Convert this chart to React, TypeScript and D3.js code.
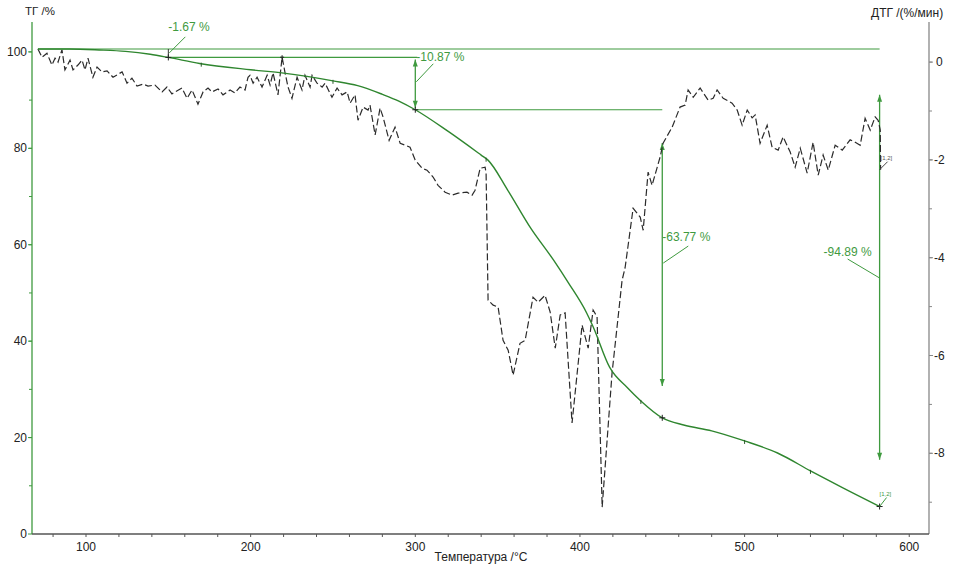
import React from "react";
import * as d3 from "d3";

// ---- TG curve (mass, %) ----
const tgTemp = [70.8, 90, 108, 124, 139, 150, 169, 200, 220, 250, 265, 280, 290, 300, 320, 340, 344, 356, 370, 384, 393, 404, 408, 418, 429, 437, 450, 463, 480, 500, 520, 540, 560, 582];
const tgMass = [100.6, 100.6, 100.4, 100.1, 99.5, 98.85, 97.6, 96.3, 95.6, 94.0, 93.0, 91.2, 89.8, 88.0, 83.5, 78.6, 77.6, 71.4, 63.5, 56.8, 52.1, 45.9, 43.0, 34.6, 30.3, 27.6, 24.1, 22.6, 21.4, 19.3, 16.8, 13.1, 9.5, 5.7];

// ---- DTG curve (%/min) ----
const dtgTemp = [70.8, 73.3, 76.3, 79.3, 81.2, 83.0, 85.4, 87.2, 90.3, 92.1, 95.1, 97.6, 99.4, 101.2, 104.2, 106.7, 109.7, 112.8, 116.4, 121.9, 124.9, 127.9, 131.0, 134.6, 137.7, 141.9, 146.2, 149.2, 152.2, 158.3, 161.4, 164.4, 168.0, 171.1, 174.1, 176.5, 180.2, 183.2, 187.5, 190.5, 193.5, 196.6, 198.4, 199.6, 201.5, 203.9, 206.9, 210.0, 211.8, 213.6, 216.6, 219.1, 220.9, 222.7, 225.1, 228.2, 231.2, 233.0, 236.1, 237.3, 240.3, 243.4, 245.2, 249.4, 252.5, 255.5, 258.6, 260.4, 263.4, 265.2, 268.3, 271.3, 272.5, 275.6, 278.6, 280.4, 284.1, 287.7, 290.8, 293.8, 296.8, 299.9, 304.1, 307.1, 310.8, 313.8, 318.1, 322.3, 326.0, 331.4, 334.5, 336.3, 339.4, 342.4, 343.0, 344.2, 347.3, 350.3, 353.3, 356.4, 359.4, 363.6, 366.7, 371.5, 374.6, 378.8, 381.9, 385.0, 388.0, 391.0, 395.2, 401.3, 405.0, 408.0, 410.4, 413.5, 419.5, 425.6, 427.4, 432.3, 436.6, 438.4, 441.4, 443.8, 448.7, 450.5, 456.0, 460.8, 463.9, 465.7, 468.8, 473.0, 477.9, 480.9, 483.3, 487.0, 492.4, 495.5, 498.5, 501.6, 504.6, 506.4, 509.4, 513.7, 516.7, 520.4, 523.4, 527.7, 530.7, 533.8, 538.0, 541.6, 544.7, 547.7, 550.8, 555.0, 559.3, 564.1, 567.2, 570.2, 573.2, 576.3, 579.3, 581.1, 582.4, 582.6];
const dtgRate = [0.27, 0.10, 0.18, -0.06, 0.08, 0.00, 0.25, -0.16, 0.04, -0.16, -0.06, 0.04, -0.16, 0.08, -0.31, -0.10, -0.20, -0.18, -0.31, -0.20, -0.43, -0.33, -0.49, -0.45, -0.49, -0.47, -0.61, -0.51, -0.65, -0.53, -0.74, -0.57, -0.86, -0.61, -0.53, -0.61, -0.55, -0.67, -0.57, -0.63, -0.51, -0.57, -0.31, -0.27, -0.43, -0.31, -0.51, -0.27, -0.47, -0.22, -0.67, 0.10, -0.22, -0.51, -0.74, -0.31, -0.57, -0.27, -0.51, -0.27, -0.43, -0.51, -0.43, -0.72, -0.53, -0.67, -0.61, -0.84, -0.67, -1.19, -0.92, -0.98, -0.88, -1.49, -0.94, -1.12, -1.60, -1.33, -1.66, -1.70, -1.74, -2.00, -2.17, -2.21, -2.35, -2.52, -2.66, -2.72, -2.68, -2.66, -2.72, -2.62, -2.17, -2.15, -2.27, -4.87, -4.97, -5.01, -5.69, -5.89, -6.40, -5.75, -5.69, -4.81, -4.91, -4.77, -5.11, -5.85, -5.17, -5.13, -7.38, -5.38, -5.85, -5.07, -5.21, -9.10, -6.36, -4.46, -4.21, -2.99, -3.17, -3.44, -2.25, -2.52, -1.94, -1.66, -1.33, -0.92, -0.88, -0.57, -0.72, -0.53, -0.78, -0.74, -0.57, -0.74, -0.84, -0.98, -1.29, -0.98, -1.14, -1.08, -1.66, -1.29, -1.74, -1.80, -1.53, -1.84, -2.15, -1.76, -2.27, -1.64, -2.31, -1.90, -2.21, -1.70, -1.80, -1.59, -1.64, -1.70, -1.15, -1.39, -1.12, -1.19, -1.39, -2.2];

// ---- ticks ----
const xTicks = [100, 200, 300, 400, 500, 600];
const tgTicks = [0, 20, 40, 60, 80, 100];
const dtgTicks = [0, -2, -4, -6, -8];

// ---- step annotations ----
const refMass = 100.6;
const refStartTemp = 70.8;
const stepTemps = [150, 300, 450, 582];
const stepMass = [98.85, 88.0, 24.1, 5.7];
const stepLabels = ["-1.67 %", "-10.87 %", "-63.77 %", "-94.89 %"];
const arrowTemps = [300, 450, 582];
const arrowTop = [98.4, 81.1, 91.1];
const arrowBottom = [88.4, 30.7, 15.4];
const leaderMass = [99.8, 93.8, 56.2, 53.1];
const smallMarkTemps = [170, 250, 343, 437, 500, 540];
const endRate = -2.2;

const GREEN = "#3f9a3f";
const CURVE = "#2f862f";
const FONT = "'Liberation Sans', Arial, Helvetica, sans-serif";

export default function App() {
  const W = 963, H = 573;
  const x = d3.scaleLinear().domain([67.2, 612]).range([32, 929]);
  const yL = d3.scaleLinear().domain([0, 106.2]).range([534, 22]);
  const yR = d3.scaleLinear().domain([-9.65, 0.82]).range([534, 22]);
  const [x0, x1] = x.range();
  const [yB, yT] = yL.range();

  const tgLine = d3.line<number>().x((_, i) => x(tgTemp[i])).y((_, i) => yL(tgMass[i])).curve(d3.curveMonotoneX);
  const dtgLine = d3.line<number>().x((_, i) => x(dtgTemp[i])).y((_, i) => yR(dtgRate[i]));
  const tgAt = (t: number) => {
    const i = d3.bisectLeft(tgTemp, t);
    if (i <= 0) return tgMass[0];
    const t0 = tgTemp[i - 1], t1 = tgTemp[i];
    return tgMass[i - 1] + (tgMass[i] - tgMass[i - 1]) * (t - t0) / (t1 - t0);
  };

  const xMinor = d3.range(80, 612, 20);
  const lMinor = d3.range(10, 106, 10);
  const rMinor = d3.range(-9, 1, 1);

  const arrowHead = (cx: number, cy: number, dir: number) =>
    `${cx},${cy} ${cx - 2.5},${cy + dir * 7} ${cx + 2.5},${cy + dir * 7}`;

  const labelPos = [
    { lx: 16, ly: -16, tx: x(stepTemps[0]), ty: 31, anchor: "start" },
    { lx: 17, ly: -18, tx: x(stepTemps[1]) + 1, ty: 61, anchor: "start" },
    { lx: 25, ly: -17, tx: x(stepTemps[2]), ty: 241, anchor: "start" },
    { lx: -32, ly: -19, tx: x(stepTemps[3]) - 8, ty: 256, anchor: "end" },
  ];

  return (
    <div style={{ position: "fixed", left: 0, top: 0, width: W, height: H, background: "#fff" }}>
      <svg width={W} height={H} style={{ display: "block", fontFamily: FONT }}>
        <rect width={W} height={H} fill="#fff" />

        {/* axes */}
        <line x1={x0} x2={x0} y1={yT} y2={yB} stroke={GREEN} strokeWidth={1.3} />
        <line x1={x1} x2={x1} y1={yT} y2={yB} stroke="#888" strokeWidth={1.3} />
        <line x1={x0} x2={x1} y1={yB} y2={yB} stroke="#555" strokeWidth={1.3} />

        {/* bottom ticks */}
        {xMinor.map((t) => (
          <line key={"xm" + t} x1={x(t)} x2={x(t)} y1={yB} y2={yB + 3} stroke="#555" strokeWidth={1} />
        ))}
        {xTicks.map((t) => (
          <text key={"xt" + t} x={x(t)} y={551} fontSize={12} textAnchor="middle" fill="#222">{t}</text>
        ))}
        <text x={481} y={561} fontSize={12} textAnchor="middle" fill="#222">Температура /°C</text>

        {/* left ticks */}
        {lMinor.map((v) => (
          <line key={"lm" + v} x1={x0 - 3} x2={x0} y1={yL(v)} y2={yL(v)} stroke={GREEN} strokeWidth={1} />
        ))}
        {tgTicks.map((v) => (
          <g key={"lt" + v}>
            <line x1={x0 - 4} x2={x0} y1={yL(v)} y2={yL(v)} stroke={GREEN} strokeWidth={1} />
            <text x={x0 - 5} y={yL(v) + 4} fontSize={12} textAnchor="end" fill="#222">{v}</text>
          </g>
        ))}
        <text x={25} y={15} fontSize={11.5} fill="#222">ТГ /%</text>

        {/* right ticks */}
        {rMinor.map((v) => (
          <line key={"rm" + v} x1={x1} x2={x1 + 3} y1={yR(v)} y2={yR(v)} stroke="#888" strokeWidth={1} />
        ))}
        {dtgTicks.map((v) => (
          <g key={"rt" + v}>
            <line x1={x1} x2={x1 + 4} y1={yR(v)} y2={yR(v)} stroke="#888" strokeWidth={1} />
            <text x={x1 + (v < 0 ? 5 : 7)} y={yR(v) + 4} fontSize={12} fill="#222">{v < 0 ? "-" + Math.abs(v) : v}</text>
          </g>
        ))}
        <text x={871} y={17} fontSize={12} fill="#222">ДТГ /(%/мин)</text>

        {/* step annotation lines */}
        <line x1={x(refStartTemp)} x2={x(stepTemps[3])} y1={yL(refMass)} y2={yL(refMass)} stroke={GREEN} strokeWidth={1.2} />
        <line x1={x(stepTemps[0])} x2={x(stepTemps[0])} y1={yL(refMass)} y2={yL(stepMass[0])} stroke="#333" strokeWidth={1} />
        <line x1={x(stepTemps[0])} x2={x(stepTemps[1]) + 2} y1={yL(stepMass[0])} y2={yL(stepMass[0])} stroke={GREEN} strokeWidth={1.2} />
        <line x1={x(stepTemps[1])} x2={x(stepTemps[2])} y1={yL(stepMass[1])} y2={yL(stepMass[1])} stroke={GREEN} strokeWidth={1.2} />
        {arrowTemps.map((t, i) => (
          <g key={"ar" + t}>
            <line x1={x(t)} x2={x(t)} y1={yL(arrowTop[i])} y2={yL(arrowBottom[i])} stroke={GREEN} strokeWidth={1.3} />
            <polygon points={arrowHead(x(t), yL(arrowTop[i]), 1)} fill={GREEN} />
            <polygon points={arrowHead(x(t), yL(arrowBottom[i]), -1)} fill={GREEN} />
          </g>
        ))}

        {/* labels with leaders */}
        {stepTemps.map((t, i) => {
          const ax = x(t) + (i === 3 ? 0 : 1);
          const ay = yL(leaderMass[i]);
          const p = labelPos[i];
          return (
            <g key={"lb" + t}>
              <line x1={ax} y1={ay} x2={ax + p.lx} y2={ay + p.ly} stroke={GREEN} strokeWidth={1} />
              <text x={p.tx} y={p.ty} fontSize={12} fill={GREEN} textAnchor={p.anchor as any}>{stepLabels[i]}</text>
            </g>
          );
        })}

        {/* DTG curve */}
        <path d={dtgLine(dtgTemp) || ""} fill="none" stroke="#2b2b2b" strokeWidth={1.2} strokeDasharray="7,3" />

        {/* TG curve */}
        <path d={tgLine(tgTemp) || ""} fill="none" stroke={CURVE} strokeWidth={1.4} />

        {/* small marks on TG */}
        {smallMarkTemps.map((t) => (
          <line key={"sm" + t} x1={x(t)} x2={x(t)} y1={yL(tgAt(t)) - 1} y2={yL(tgAt(t)) + 3} stroke="#2a5a2a" strokeWidth={1} />
        ))}
        {/* step crosses */}
        {stepTemps.map((t, i) => (
          <g key={"cr" + t} stroke="#222" strokeWidth={1}>
            <line x1={x(t) - 3} x2={x(t) + 3} y1={yL(stepMass[i])} y2={yL(stepMass[i])} />
            <line x1={x(t)} x2={x(t)} y1={yL(stepMass[i]) - 3} y2={yL(stepMass[i]) + 3} />
          </g>
        ))}
        {/* DTG spike cross */}
        <g stroke="#222" strokeWidth={1}>
          <line x1={x(219.1) - 2} x2={x(219.1) + 2} y1={yR(0.1)} y2={yR(0.1)} />
          <line x1={x(219.1)} x2={x(219.1)} y1={yR(0.1) - 2} y2={yR(0.1) + 2} />
        </g>

        {/* [1,2] end labels */}
        <line x1={x(582)} y1={yR(endRate)} x2={x(582) + 8} y2={yR(endRate) - 8} stroke="#444" strokeWidth={1} />
        <text x={x(582) + 1} y={yR(endRate) - 10} fontSize={6} fill="#555">[1,2]</text>
        <line x1={x(582)} y1={yL(stepMass[3])} x2={x(582) + 7} y2={yL(stepMass[3]) - 9} stroke={GREEN} strokeWidth={1} />
        <text x={x(582)} y={yL(stepMass[3]) - 11} fontSize={6} fill={GREEN}>[1,2]</text>
      </svg>
    </div>
  );
}
